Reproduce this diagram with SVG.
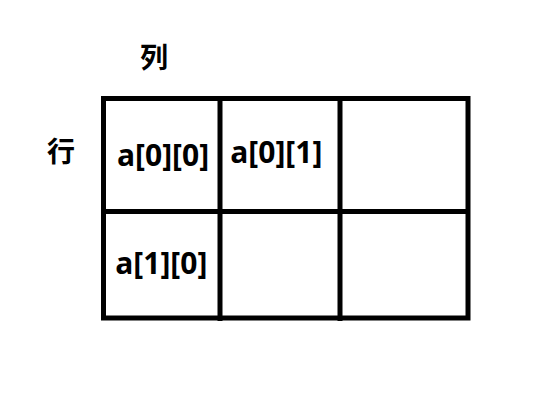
<svg xmlns="http://www.w3.org/2000/svg" width="552" height="407" viewBox="0 0 552 407">
<style>
.ln{stroke:#000;stroke-width:5;fill:none}
.cell{font-family:"Open Sans","Noto Sans",sans-serif;font-weight:bold;font-size:30px;fill:#000;text-anchor:middle}
.hd{font-family:"Noto Sans CJK SC","Noto Sans CJK JP",sans-serif;font-weight:bold;font-size:28px;fill:#000;text-anchor:middle}
</style>
<rect width="552" height="407" fill="#fff"/>
<g id="connectors">
<rect class="ln" x="103.5" y="98.5" width="364.5" height="219.5"/>
<line class="ln" x1="220" y1="98.5" x2="220" y2="321"/>
<line class="ln" x1="340" y1="98.5" x2="340" y2="321"/>
<line class="ln" x1="103.5" y1="211.5" x2="468" y2="211.5"/>
</g>
<g id="header-col"><text class="hd" x="154" y="68">列</text></g>
<g id="header-row"><text class="hd" x="61" y="162">行</text></g>
<g id="cell-00"><text class="cell" x="163" y="165.5">a[0][0]</text></g>
<g id="cell-01"><text class="cell" x="276.3" y="163">a[0][1]</text></g>
<g id="cell-10"><text class="cell" x="161.3" y="274">a[1][0]</text></g>
</svg>
